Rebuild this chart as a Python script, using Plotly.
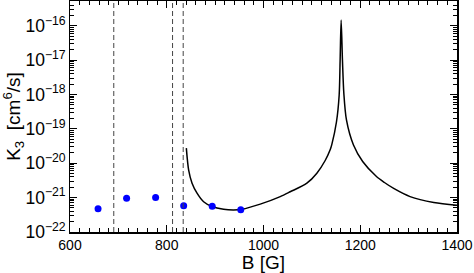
import plotly.graph_objects as go

# Theory curve: B [G], log10 K3
curve_B = [840.5, 845.3, 852.3, 862.6, 876.2, 893.6, 917.5, 938.2, 955.5, 993.3,
           1034.6, 1055.2, 1089.7, 1110.3, 1127.5, 1137.8, 1141.3, 1150.8, 1156.4,
           1158.4, 1160.5, 1163.2, 1166.1, 1171.5, 1186.0, 1205.0, 1233.0, 1250.0,
           1270.0, 1303.0, 1352.0, 1400.0]
curve_logK = [-19.56, -20.20, -20.58, -20.87, -21.12, -21.26, -21.34, -21.36, -21.34, -21.19,
              -20.97, -20.83, -20.58, -20.29, -19.92, -19.61, -19.45, -18.80, -18.02,
              -17.00, -15.83, -17.00, -17.97, -18.74, -19.47, -19.95, -20.38, -20.56,
              -20.74, -20.97, -21.14, -21.22]

# Experimental points
exp_B = [658, 717, 777, 835, 894, 953]
exp_logK = [-21.32, -21.02, -21.0, -21.235, -21.25, -21.35]

# Dashed vertical lines
vlines_B = [690.5, 812, 834]

curve_K = [10 ** v for v in curve_logK]
exp_K = [10 ** v for v in exp_logK]

fig = go.Figure()
fig.add_trace(go.Scatter(x=curve_B, y=curve_K, mode="lines",
                         line=dict(color="black", width=1.5, shape="spline", smoothing=0.8),
                         showlegend=False))
fig.add_trace(go.Scatter(x=exp_B, y=exp_K, mode="markers",
                         marker=dict(color="#0000ff", size=7),
                         showlegend=False))
for v in vlines_B:
    fig.add_shape(type="line", x0=v, x1=v, xref="x", y0=0, y1=1, yref="paper",
                  line=dict(color="#444444", width=1, dash="5px,3px"))

font = "Liberation Sans, Arial, sans-serif"
fig.update_layout(
    width=474, height=273,
    margin=dict(l=70, r=17, t=1, b=41),
    paper_bgcolor="white", plot_bgcolor="white",
    font=dict(family=font, color="black"),
    xaxis=dict(range=[600, 1400], tickvals=[600, 800, 1000, 1200, 1400],
               ticks="inside", ticklen=7, tickwidth=1, tickcolor="black",
               minor=dict(dtick=20, ticks="inside", ticklen=4, tickcolor="black"),
               showline=True, linecolor="black", linewidth=1.5, mirror="allticks",
               showgrid=False, zeroline=False, tickfont=dict(size=14), automargin=False,
               title=dict(text="B [G]", font=dict(size=19), standoff=1)),
    yaxis=dict(type="log", range=[-22, -15.28], dtick=1, exponentformat="power",
               ticks="inside", ticklen=7, tickwidth=1, tickcolor="black",
               minor=dict(dtick="D1", ticks="inside", ticklen=4, tickcolor="black"),
               showline=True, linecolor="black", linewidth=1.5, mirror="allticks",
               showgrid=False, zeroline=False, tickfont=dict(size=14), automargin=False,
               title=dict(text="K<sub>3</sub>  [cm<sup>6</sup>/s]", font=dict(size=19), standoff=4)),
)
fig.write_html("out.html", config={"displayModeBar": False, "staticPlot": True},
               post_script="document.body.style.margin='0';document.body.style.overflow='hidden';")
